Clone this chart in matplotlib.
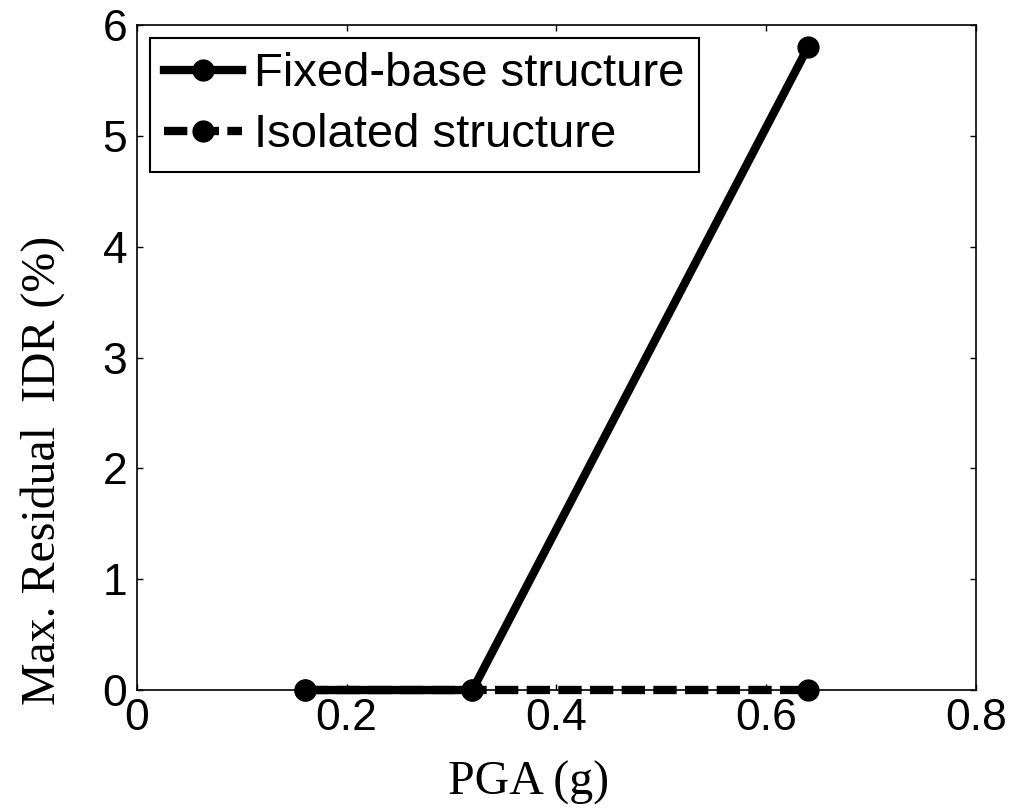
import matplotlib
matplotlib.use("Agg")
import matplotlib.pyplot as plt

pga = [0.16, 0.32, 0.64]
fixed_base = [0.0, 0.0, 5.8]
isolated = [0.0, 0.0, 0.0]
x_ticks = [0, 0.2, 0.4, 0.6, 0.8]
x_tick_labels = ["0", "0.2", "0.4", "0.6", "0.8"]
y_ticks = [0, 1, 2, 3, 4, 5, 6]

fig = plt.figure(figsize=(10.26, 8.08), dpi=100)
ax = fig.add_axes([0.1335, 0.146, 0.8175, 0.823])

line_kw = dict(color="black", linewidth=6, marker="o", markersize=15,
               markeredgewidth=1, clip_on=False)
ax.plot(pga, fixed_base, linestyle="-", label="Fixed-base structure",
        zorder=3, **line_kw)
ax.plot(pga, isolated, linestyle=(0, (2.8, 1.0)), label="Isolated structure",
        zorder=2, **line_kw)

ax.set_xlim(0, 0.8)
ax.set_ylim(0, 6)
ax.set_xticks(x_ticks)
ax.set_xticklabels(x_tick_labels)
ax.set_yticks(y_ticks)
ax.tick_params(direction="in", length=4, width=1, top=True, right=True,
               labelsize=32)
ax.tick_params(axis="x", pad=5.5)
ax.tick_params(axis="y", pad=7)
for lbl in ax.get_xticklabels() + ax.get_yticklabels():
    lbl.set_fontfamily("Liberation Sans")
for s in ax.spines.values():
    s.set_linewidth(1.2)

ax.set_xlabel("PGA (g)", fontsize=34.5, family="Liberation Serif")
ax.xaxis.label.set_va("baseline")
ax.xaxis.set_label_coords(0.467, -0.158)

ax.set_ylabel("Max. Residual  IDR (%)", fontsize=34.5, family="Liberation Serif")
ax.yaxis.label.set_va("baseline")
ax.yaxis.set_label_coords(-0.0977, 0.331)

leg = ax.legend(loc="upper left", prop={"family": "Liberation Sans", "size": 34},
                frameon=True, fancybox=False, edgecolor="black", framealpha=1,
                handlelength=1.65, handletextpad=0.25, borderpad=0.3,
                labelspacing=0.36, borderaxespad=0.28)
leg.get_frame().set_linewidth(1.5)

fig.savefig("out.png", dpi=100, facecolor="white")
